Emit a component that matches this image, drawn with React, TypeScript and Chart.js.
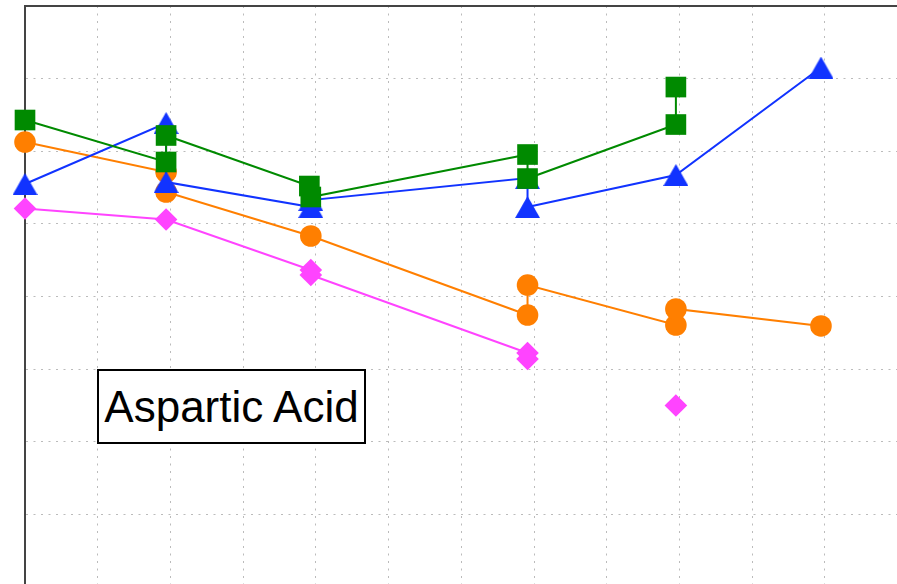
import React, { useEffect, useRef } from "react";
import { Chart, registerables } from "chart.js";

Chart.register(...registerables);

// ---- data (x in grid units along the time axis, y in grid units) ----
const greenX = [0, 1.94, 1.94, 3.91, 3.93, 6.91, 6.91, 8.95, 8.95];
const greenY = [6.43, 5.852, 6.217, 5.521, 5.37, 5.955, 5.624, 6.368, 6.884];

const blueX = [0, 1.94, 1.94, 3.93, 3.93, 6.91, 6.91, 8.95, 10.945];
const blueY = [5.549, 6.389, 5.576, 5.232, 5.328, 5.631, 5.232, 5.673, 7.153];

const orangeX = [0, 1.94, 1.94, 3.93, 6.91, 6.91, 8.95, 8.95, 10.945];
const orangeY = [6.127, 5.714, 5.439, 4.833, 3.745, 4.158, 3.607, 3.828, 3.594];

const magentaX = [0, 1.94, 3.93, 3.93, 6.91, 6.91, 8.95, 8.95];
const magentaY: (number | null)[] = [5.211, 5.06, 4.365, 4.296, 3.222, 3.139, null, 2.499];

const xMin = 0;
const xMax = 12;
const yMin = 0;
const yMax = 8;
const gridStep = 1;

const labelText = "Aspartic Acid";

const GREEN = "#008a00";
const BLUE = "#1133ff";
const ORANGE = "#ff7f00";
const MAGENTA = "#ff44ff";

function pts(xs: number[], ys: (number | null)[]) {
  return xs.map((x, i) => ({ x, y: ys[i] }));
}

function makeTriangle(color: string) {
  const c = document.createElement("canvas");
  c.width = 25;
  c.height = 22;
  const g = c.getContext("2d")!;
  g.fillStyle = color;
  g.beginPath();
  g.moveTo(12.5, 0);
  g.lineTo(25, 22);
  g.lineTo(0, 22);
  g.closePath();
  g.fill();
  return c;
}

const framePlugin = {
  id: "topFrame",
  beforeDatasetsDraw(chart: any) {
    const { ctx, chartArea } = chart;
    ctx.save();
    ctx.strokeStyle = "#444444";
    ctx.lineWidth = 2;
    ctx.beginPath();
    ctx.moveTo(chartArea.left - 1, chartArea.top);
    ctx.lineTo(chartArea.right, chartArea.top);
    ctx.stroke();
    ctx.restore();
  },
};

export default function App() {
  const ref = useRef<HTMLCanvasElement | null>(null);

  useEffect(() => {
    if (!ref.current) return;
    const tri = makeTriangle(BLUE);
    const common = {
      showLine: true,
      borderWidth: 2,
      pointBorderWidth: 0,
      spanGaps: false,
      clip: false,
    };
    const chart = new Chart(ref.current, {
      type: "scatter",
      data: {
        datasets: [
          {
            ...common,
            label: "green",
            data: pts(greenX, greenY),
            borderColor: GREEN,
            backgroundColor: GREEN,
            pointBackgroundColor: GREEN,
            pointBorderColor: GREEN,
            pointStyle: "rect",
            pointRadius: 14.6,
          },
          {
            ...common,
            label: "blue",
            data: pts(blueX, blueY),
            borderColor: BLUE,
            backgroundColor: BLUE,
            pointBackgroundColor: BLUE,
            pointBorderColor: BLUE,
            pointStyle: tri,
            pointRadius: 12,
          },
          {
            ...common,
            label: "orange",
            data: pts(orangeX, orangeY),
            borderColor: ORANGE,
            backgroundColor: ORANGE,
            pointBackgroundColor: ORANGE,
            pointBorderColor: ORANGE,
            pointStyle: "circle",
            pointRadius: 10.8,
          },
          {
            ...common,
            label: "magenta",
            data: pts(magentaX, magentaY),
            borderColor: MAGENTA,
            backgroundColor: MAGENTA,
            pointBackgroundColor: MAGENTA,
            pointBorderColor: MAGENTA,
            pointStyle: "rectRot",
            pointRadius: 11.3,
          },
        ],
      } as any,
      options: {
        responsive: false,
        animation: false,
        devicePixelRatio: 1,
        events: [],
        layout: { autoPadding: false, padding: { left: 25, top: 6, right: 12.3, bottom: 13 } },
        plugins: {
          legend: { display: false },
          tooltip: { enabled: false },
          title: { display: false },
        },
        scales: {
          x: {
            type: "linear",
            min: xMin,
            max: xMax,
            ticks: { display: false, stepSize: gridStep },
            grid: { color: "#bbbbbb", lineWidth: 1, drawTicks: false },
            border: { display: true, color: "#444444", width: 2, dash: [2, 5.5] },
          },
          y: {
            type: "linear",
            min: yMin,
            max: yMax,
            ticks: { display: false, stepSize: gridStep },
            grid: { color: "#bbbbbb", lineWidth: 1, drawTicks: false },
            border: { display: true, color: "#444444", width: 2, dash: [2, 5.5] },
          },
        },
      } as any,
      plugins: [framePlugin],
    });
    return () => chart.destroy();
  }, []);

  return (
    <div style={{ position: "fixed", left: 0, top: 0, width: 910, height: 600, background: "#ffffff" }}>
      <canvas ref={ref} width={910} height={600} style={{ width: 910, height: 600, display: "block" }} />
      <div
        style={{
          position: "absolute",
          left: 97,
          top: 369,
          width: 269,
          height: 75,
          boxSizing: "border-box",
          border: "2px solid #000000",
          background: "#ffffff",
          display: "flex",
          alignItems: "center",
          justifyContent: "center",
          fontFamily: "'Liberation Sans', Arial, sans-serif",
          fontSize: 44,
          color: "#000000",
          whiteSpace: "nowrap",
        }}
      >
        {labelText}
      </div>
    </div>
  );
}
